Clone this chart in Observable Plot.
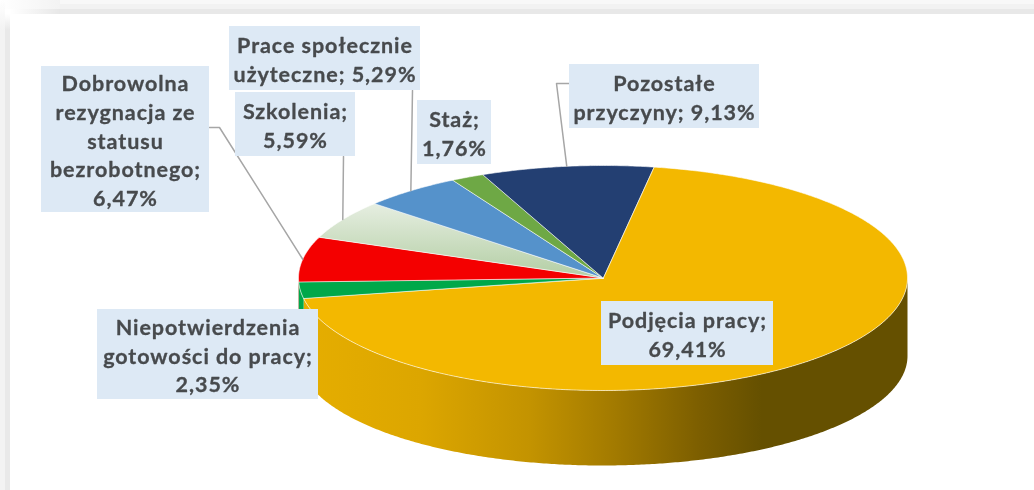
<!DOCTYPE html>
<html lang="pl">
<head>
<meta charset="utf-8">
<script src="https://cdn.jsdelivr.net/npm/d3@7"></script>
<script src="https://cdn.jsdelivr.net/npm/@observablehq/plot@0.6"></script>
<style>
html,body{margin:0;padding:0;background:#fff;}
svg{display:block;filter:blur(0.45px);}
svg text{letter-spacing:0.95px;}
</style>
</head>
<body>
<div id="chart"></div>
<script>
// Data
const categories = ["Podjęcia pracy","Niepotwierdzenia gotowości do pracy","Dobrowolna rezygnacja ze statusu bezrobotnego","Szkolenia","Prace społecznie użyteczne","Staż","Pozostałe przyczyny"];
const shares = [69.41,2.35,6.47,5.59,5.29,1.76,9.13];
const sliceLabels = [
  "Podjęcia pracy;\n69,41%",
  "Niepotwierdzenia\ngotowości do pracy;\n2,35%",
  "Dobrowolna\nrezygnacja ze\nstatusu\nbezrobotnego;\n6,47%",
  "Szkolenia;\n5,59%",
  "Prace społecznie\nużyteczne; 5,29%",
  "Staż;\n1,76%",
  "Pozostałe\nprzyczyny; 9,13%"
];
const sliceFills = ["#f3b800","#00a84a","#f40000","url(#paleGreen)","#5592cb","#6ea845","#233f72"];

// Layout of the tilted pie
const W = 1034, H = 490;
const pie = {cx:602.5, cy:277.5, rx:304.5, ry:112.5, drop:78, ryLow:109.5, start:9.6};
const boxes = [
  [601,773,301,365],[97,318,309,399],[41,209,66,212],[235,355,92,156],
  [229,420,26,90],[417,491,100,164],[569,759,64,128]
];
// leader knee points: from the box edge to the slice rim, null = no leader
const leaders = [null,null,[[209,127],[219,127]],[[343,156]],[[412,90]],null,[[569,83],[556,83]]];

const rad = d => d*Math.PI/180;
const rim = t => ({x:pie.cx+pie.rx*Math.sin(rad(t)), y:pie.cy-pie.ry*Math.cos(rad(t))});
const rimLow = t => ({x:pie.cx+pie.rx*Math.sin(rad(t)), y:pie.cy+pie.drop-pie.ryLow*Math.cos(rad(t))});
const arc = (a,b,f=rim) => { const n=Math.max(2,Math.ceil(Math.abs(b-a))*2); return d3.range(n+1).map(i=>f(a+(b-a)*i/n)); };

let acc = pie.start;
const slices = shares.map((s,i)=>{ const a=acc, b=acc+s*3.6; acc=b; return {i,a,b,mid:(a+b)/2}; });

const topFace = s => [{x:pie.cx,y:pie.cy},...arc(s.a,s.b)];
const wallFace = (a,b) => [...arc(a,b),...arc(b,a,rimLow)];

const rectMark = (x1,x2,y1,y2,fill) => Plot.rect([0],{x1:()=>x1,x2:()=>x2,y1:()=>y1,y2:()=>y2,fill});

const defs = () => {
  const g = document.createElementNS("http://www.w3.org/2000/svg","g");
  g.innerHTML = `<defs>
  <linearGradient id="wall" gradientUnits="userSpaceOnUse" x1="298" x2="907" y1="0" y2="0">
    <stop offset="0" stop-color="#e6ae00"/><stop offset="0.2" stop-color="#dca600"/>
    <stop offset="0.38" stop-color="#c39300"/><stop offset="0.52" stop-color="#a27a00"/>
    <stop offset="0.66" stop-color="#7c5e00"/><stop offset="0.76" stop-color="#655000"/>
    <stop offset="1" stop-color="#655000"/></linearGradient>
  <linearGradient id="paleGreen" gradientUnits="userSpaceOnUse" x1="0" x2="0" y1="203" y2="277">
    <stop offset="0" stop-color="#e6eee1"/><stop offset="1" stop-color="#b3cea4"/></linearGradient>
  <linearGradient id="fadeX" x1="0" x2="1" y1="0" y2="0">
    <stop offset="0" stop-color="#e7e7e7" stop-opacity="0"/><stop offset="1" stop-color="#e7e7e7"/></linearGradient>
  <linearGradient id="fadeX2" x1="0" x2="1" y1="0" y2="0">
    <stop offset="0" stop-color="#f3f3f3" stop-opacity="0"/><stop offset="1" stop-color="#f3f3f3"/></linearGradient>
  <linearGradient id="fadeY" x1="0" x2="0" y1="0" y2="1">
    <stop offset="0" stop-color="#e9e9e9" stop-opacity="0"/><stop offset="1" stop-color="#e9e9e9"/></linearGradient>
  <linearGradient id="fadeY2" x1="0" x2="0" y1="0" y2="1">
    <stop offset="0" stop-color="#f3f3f3" stop-opacity="0"/><stop offset="1" stop-color="#f3f3f3"/></linearGradient>
  </defs>`;
  return g;
};

const marks = [
  defs,
  // page frame shading
  rectMark(0,5,30,H,"#f3f3f3"), rectMark(5,10,30,H,"#e9e9e9"),
  rectMark(0,5,0,30,"url(#fadeY2)"), rectMark(5,10,14,30,"url(#fadeY)"),
  rectMark(60,W,0,4,"#f8f8f8"), rectMark(60,W,4,9,"#f2f2f2"), rectMark(60,W,9,14,"#e8e8e8"),
  rectMark(0,60,0,9,"url(#fadeX2)"), rectMark(10,60,9,14,"url(#fadeX)"),
  // side wall
  Plot.line(wallFace(90,slices[0].b),{x:"x",y:"y",fill:"url(#wall)",stroke:"none",curve:"linear-closed"}),
  Plot.line(wallFace(slices[1].a,slices[1].b),{x:"x",y:"y",fill:sliceFills[1],stroke:"none",curve:"linear-closed"}),
  Plot.line(wallFace(slices[2].a,270),{x:"x",y:"y",fill:sliceFills[2],stroke:"none",curve:"linear-closed"}),
  // top face
  ...slices.map(s=>Plot.line(topFace(s),{x:"x",y:"y",fill:sliceFills[s.i],stroke:"#fff",strokeWidth:0.8,strokeOpacity:0.75,curve:"linear-closed"})),
  // leaders
  ...slices.filter(s=>leaders[s.i]).map(s=>{
    const pts=[...leaders[s.i].map(([x,y])=>({x,y})),rim(s.mid)];
    return Plot.line(pts,{x:"x",y:"y",stroke:"#a6a6a6",strokeWidth:1.5});
  }),
  // label boxes and text
  Plot.rect(slices,{x1:s=>boxes[s.i][0],x2:s=>boxes[s.i][1],y1:s=>boxes[s.i][2],y2:s=>boxes[s.i][3],fill:"#dde9f5"}),
  Plot.text(slices,{
    x:s=>(boxes[s.i][0]+boxes[s.i][1])/2,
    y:s=>(boxes[s.i][2]+boxes[s.i][3])/2,
    text:s=>sliceLabels[s.i],
    fontFamily:"Lato",fontWeight:700,fontSize:21.5,lineHeight:1.33,fill:"#474a4d",textAnchor:"middle",lineAnchor:"middle",
    stroke:"#474a4d",strokeWidth:0.3
  })
];

const chart = Plot.plot({
  width:W,height:H,margin:0,
  x:{domain:[0,W],range:[0,W],axis:null},
  y:{domain:[0,H],range:[0,H],axis:null},
  style:{background:"#fff",overflow:"hidden"},
  marks
});
document.getElementById("chart").append(chart);
</script>
</body>
</html>
